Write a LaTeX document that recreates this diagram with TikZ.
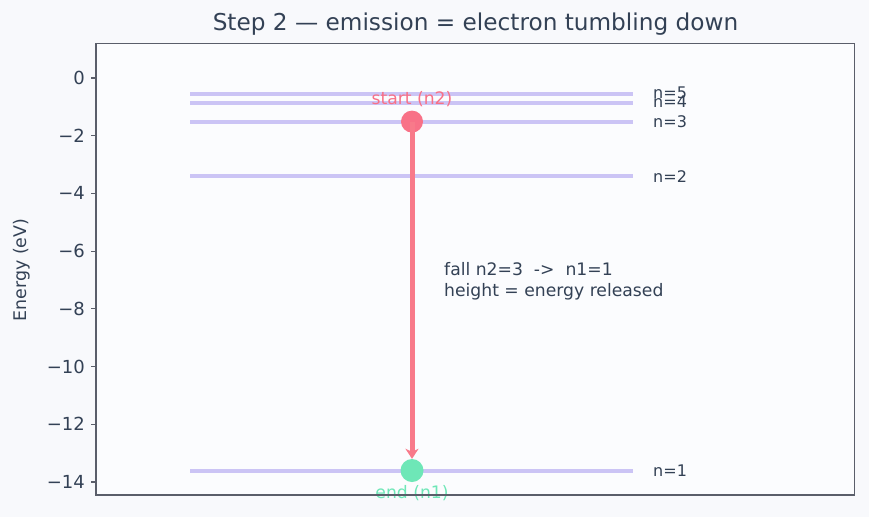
\documentclass[tikz,border=0pt]{standalone}
\usepackage{fontspec}
\setmainfont{DejaVu Sans}
\usetikzlibrary{arrows.meta}
\definecolor{figbg}{HTML}{F8F9FC}
\definecolor{axbg}{HTML}{FBFCFE}
\definecolor{ink}{HTML}{334155}
\definecolor{spine}{HTML}{5A5E6A}
\definecolor{level}{HTML}{CBC4F5}
\definecolor{fall}{HTML}{F87A8A}
\definecolor{startc}{HTML}{F87187}
\definecolor{endc}{HTML}{6EE7B7}
\tikzset{
  tick/.style={draw=spine, line width=1.2pt},
  ticklab/.style={text=ink, anchor=east, inner sep=0pt, font=\fontsize{18}{20}\selectfont},
  lvl/.style={draw=level, line width=4pt},
  lvllab/.style={text=ink, anchor=west, inner sep=0pt, font=\fontsize{16}{18}\selectfont},
  dot/.style={circle, inner sep=0pt, minimum size=#1},
  annot/.style={text=ink, anchor=west, inner sep=0pt, align=left, font=\fontsize{17.2}{21.5}\selectfont},
  tag/.style={inner sep=0pt, font=\fontsize{17.2}{20}\selectfont},
  fallarrow/.style={draw=fall, line width=5pt, -{Stealth[length=10pt, width=13pt, inset=3pt]}}
}
\begin{document}
\begin{tikzpicture}[x=1pt, y=-1pt]
\useasboundingbox (0,0) rectangle (869,517);
\fill[figbg] (0,0) rectangle (869,517);
\fill[axbg] (96,43.5) rectangle (854.5,495);
% title and axis label
\node[text=ink, font=\fontsize{23.2}{26}\selectfont] (title) at (475.5,24) {Step 2 — emission = electron tumbling down};
\node[text=ink, rotate=90, font=\fontsize{17.4}{20}\selectfont] (ylab) at (22,270) {Energy (eV)};
% ticks
\foreach \v/\t [count=\i] in {0/0, 2/−2, 4/−4, 6/−6, 8/−8, 10/−10, 12/−12, 14/−14} {
  \coordinate (ta\i) at (96,{78+28.857*\v});
  \coordinate (tb\i) at (91,{78+28.857*\v});
  \draw[tick] (ta\i) -- (tb\i);
  \node[ticklab] (tl\i) at (85,{78+28.857*\v}) {\t};
}
% energy levels
\foreach \n/\y in {5/93.7, 4/102.5, 3/121.6, 2/176.1, 1/470.5} {
  \coordinate (la\n) at (190,\y);
  \coordinate (lb\n) at (633,\y);
  \draw[lvl] (la\n) -- (lb\n);
}
\node[lvllab] (n5) at (653,92.5) {n=5};
\node[lvllab] (n4) at (653,101.5) {n=4};
\node[lvllab] (n3) at (653,121.6) {n=3};
\node[lvllab] (n2) at (653,176.1) {n=2};
\node[lvllab] (n1) at (653,470.5) {n=1};
% electron
\node[dot=22pt, fill=startc] (start) at (412,121.6) {};
\node[dot=23pt, fill=endc] (end) at (412,470.5) {};
\draw[fallarrow] (start.center) -- (end.north);
\node[tag, text=startc] (startlab) at (412,99) {start (n2)};
\node[tag, text=endc] (endlab) at (412,493) {end (n1)};
\node[annot] (note) at (444,281) {fall n2=3\ \ ->\ \ n1=1\\height = energy released};
% frame
\draw[spine, line width=1.5pt] (96,43.5) rectangle (854.5,495);
\end{tikzpicture}
\end{document}
